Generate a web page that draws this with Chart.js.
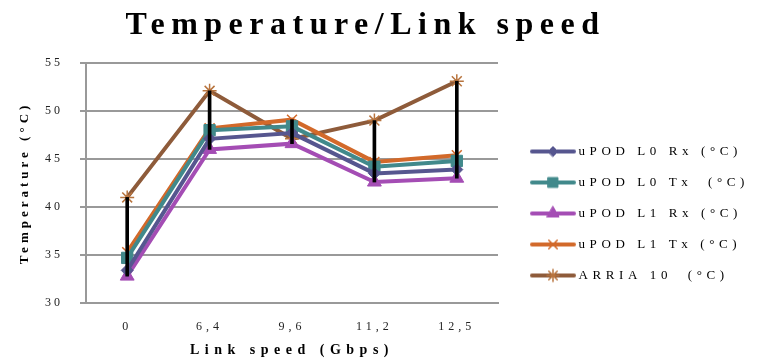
<!DOCTYPE html>
<html>
<head>
<meta charset="utf-8">
<script src="https://cdn.jsdelivr.net/npm/chart.js@4/dist/chart.umd.min.js"></script>
<style>
  html, body { margin: 0; padding: 0; background: #ffffff; }
  #wrap { width: 761px; height: 359px; position: relative; }
</style>
</head>
<body>
<div id="wrap"><canvas id="c" width="761" height="359"></canvas></div>
<script>
// ---- data ----
const categories = ['0', '6,4', '9,6', '11,2', '12,5'];
const seriesNames = ['uPOD L0 Rx (°C)', 'uPOD L0 Tx  (°C)', 'uPOD L1 Rx (°C)', 'uPOD L1 Tx (°C)', 'ARRIA 10  (°C)'];
const l0Rx = [33.4, 47.1, 47.7, 43.5, 43.9];
const l0Tx = [34.7, 48.0, 48.4, 44.2, 44.8];
const l1Rx = [32.8, 46.0, 46.6, 42.6, 43.0];
const l1Tx = [35.3, 48.2, 49.1, 44.7, 45.4];
const arria10 = [41.0, 52.1, 47.1, 49.0, 53.1];
const yTicks = [30, 35, 40, 45, 50, 55];
const titleText = 'Temperature/Link speed';
const xTitle = 'Link speed (Gbps)';
const yTitle = 'Temperature (°C)';

// ---- styles ----
const serif = '"Liberation Serif", "DejaVu Serif", serif';
const colors = ['#56568f', '#41898b', '#a44db4', '#d2692a', '#8e5b3a'];
const markerColors = ['#56568f', '#41898b', '#a44db4', '#d2692a', '#b8743e'];
const styles = ['rectRot', 'rect', 'triangle', 'crossRot', 'star'];
const radii = [6, 8, 8, 7, 7];
const allSeries = [l0Rx, l0Tx, l1Rx, l1Tx, arria10];

// high-low ranges derived from the series
const hiLo = categories.map((_, i) => {
  const v = allSeries.map(s => s[i]);
  return [Math.min(...v), Math.max(...v)];
});

function isCross(st) { return st === 'crossRot' || st === 'star' || st === 'cross'; }

const lineDatasets = allSeries.map((data, i) => ({
  type: 'line',
  label: seriesNames[i],
  data: data,
  borderColor: colors[i],
  backgroundColor: colors[i],
  borderWidth: 4,
  pointStyle: styles[i],
  pointRadius: radii[i],
  pointHoverRadius: radii[i],
  pointBackgroundColor: markerColors[i],
  pointBorderColor: markerColors[i],
  pointBorderWidth: isCross(styles[i]) ? 1.5 : 1,
  tension: 0,
  order: 1
}));

// legend samples: line + marker
function legendSample(i) {
  const cv = document.createElement('canvas');
  cv.width = 64; cv.height = 18;
  const c = cv.getContext('2d');
  c.strokeStyle = colors[i];
  c.lineWidth = 4;
  c.lineCap = 'round';
  c.beginPath(); c.moveTo(20, 9); c.lineTo(62, 9); c.stroke();
  c.fillStyle = markerColors[i];
  c.strokeStyle = markerColors[i];
  c.lineWidth = isCross(styles[i]) ? 1.5 : 1;
  Chart.helpers.drawPoint(c, { pointStyle: styles[i], radius: radii[i] - 1, rotation: 0, borderWidth: c.lineWidth }, 41, 9);
  return cv;
}
const samples = allSeries.map((_, i) => legendSample(i));

const spacingPlugin = {
  id: 'spacing',
  beforeLayout(chart) {
    if (chart.$patched) return;
    chart.$patched = true;
    const ctx = chart.ctx;
    const wrap = (obj, name, sp, after, dx) => {
      const f = obj[name];
      obj[name] = function (...a) {
        const o = ctx.letterSpacing;
        ctx.save();
        if (dx) ctx.translate(dx, 0);
        ctx.letterSpacing = sp;
        let r;
        try { r = f.apply(this, a); } finally { ctx.restore(); ctx.letterSpacing = o; }
        if (after) after.call(this);
        return r;
      };
    };
    wrap(chart.titleBlock, 'draw', '6.5px', null, -15);
    wrap(chart.legend, 'fit', '4.6px', function () { this.width = 263; });
    wrap(chart.legend, 'draw', '4.6px');
    wrap(chart.scales.x, 'drawLabels', '4px');
    wrap(chart.scales.y, 'drawLabels', '3px');
    wrap(chart.scales.x, 'drawTitle', '5.5px');
    wrap(chart.scales.y, 'drawTitle', '4px');
  },
  afterLayout(chart) {
    chart.legend.top = 127;
  }
};

new Chart(document.getElementById('c'), {
  type: 'line',
  data: {
    labels: categories,
    datasets: [
      ...lineDatasets,
      {
        type: 'bar',
        label: 'hilo',
        data: hiLo,
        backgroundColor: '#000000',
        borderWidth: 0,
        barThickness: 3,
        order: -1
      }
    ]
  },
  plugins: [spacingPlugin],
  options: {
    responsive: false,
    animation: false,
    events: [],
    layout: { padding: { left: 0, right: 0, top: 0, bottom: 0 } },
    plugins: {
      tooltip: { enabled: false },
      title: {
        display: true,
        text: titleText,
        color: '#000000',
        font: { family: serif, size: 32, weight: 'bold', lineHeight: 1 },
        padding: { top: 10, bottom: 21 }
      },
      legend: {
        display: true,
        position: 'right',
        align: 'start',
        labels: {
          usePointStyle: true,
          pointStyleWidth: 56,
          padding: 18,
          color: '#000000',
          font: { family: serif, size: 13 },
          filter: (item) => item.datasetIndex < allSeries.length,
          generateLabels: (chart) => {
            const items = Chart.defaults.plugins.legend.labels.generateLabels(chart);
            items.forEach(it => {
              if (it.datasetIndex < samples.length) it.pointStyle = samples[it.datasetIndex];
            });
            return items;
          }
        }
      }
    },
    scales: {
      x: {
        type: 'category',
        offset: true,
        grid: { display: false, drawTicks: false },
        border: { display: true, color: '#999999', width: 2 },
        ticks: { color: '#222222', padding: 17, font: { family: serif, size: 12 }, maxRotation: 0 },
        title: {
          display: true,
          text: xTitle,
          color: '#000000',
          font: { family: serif, size: 14, weight: 'bold', lineHeight: 1.2 },
          padding: { top: 0, bottom: 0 }
        },
        afterFit: (s) => { s.height = 56; }
      },
      y: {
        min: 30,
        max: 55,
        afterBuildTicks: (s) => { s.ticks = yTicks.map(v => ({ value: v })); },
        grid: { color: '#999999', lineWidth: 2, drawTicks: true, tickLength: 6, tickColor: '#999999', tickWidth: 2 },
        border: { display: true, color: '#999999', width: 2 },
        ticks: { color: '#222222', padding: 17, font: { family: serif, size: 12 } },
        title: {
          display: true,
          text: yTitle,
          color: '#000000',
          font: { family: serif, size: 13, weight: 'bold', lineHeight: 1.2 },
          padding: { top: 17, bottom: 0 }
        },
        afterFit: (s) => { s.width = 86; }
      }
    }
  }
});
</script>
</body>
</html>
